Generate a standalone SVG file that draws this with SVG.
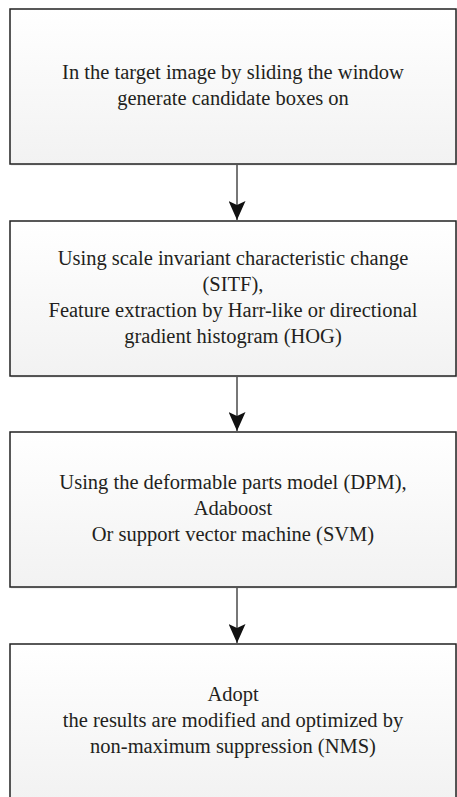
<svg xmlns="http://www.w3.org/2000/svg" width="457" height="797" viewBox="0 0 457 797">
  <defs>
    <linearGradient id="boxFill" x1="0" y1="0" x2="0" y2="1">
      <stop offset="0" stop-color="#ffffff"/>
      <stop offset="1" stop-color="#f2f2f2"/>
    </linearGradient>
    <marker id="arrow" viewBox="0 0 19 17" refX="19" refY="8.5" markerWidth="19" markerHeight="17" markerUnits="userSpaceOnUse" orient="auto">
      <path d="M0,0 L19,8.5 L0,17 L4,8.5 Z" fill="#111111"/>
    </marker>
    <style>
      .shadow { fill: #e6e6e6; stroke: none; }
      .box { fill: url(#boxFill); stroke: #222222; stroke-width: 1.5; }
      .label { font-family: "Liberation Serif", "Times New Roman", serif; font-size: 20.5px; fill: #231f20; text-anchor: middle; }
      .link { stroke: #555555; stroke-width: 1.6; fill: none; marker-end: url(#arrow); }
    </style>
  </defs>

  <rect width="457" height="797" fill="#ffffff"/>

  <!-- process steps -->
  <g id="step-candidates">
    <rect class="shadow" x="11" y="10.5" width="446" height="155"/>
    <rect class="box" x="10" y="9" width="446" height="155"/>
    <text class="label" x="233" y="79">In the target image by sliding the window</text>
    <text class="label" x="233" y="105">generate candidate boxes on</text>
  </g>

  <g id="step-features">
    <rect class="shadow" x="11" y="222.5" width="446" height="155"/>
    <rect class="box" x="10" y="221" width="446" height="155"/>
    <text class="label" x="233" y="265">Using scale invariant characteristic change</text>
    <text class="label" x="233" y="291">(SITF),</text>
    <text class="label" x="233" y="317">Feature extraction by Harr-like or directional</text>
    <text class="label" x="233" y="343">gradient histogram (HOG)</text>
  </g>

  <g id="step-classifier">
    <rect class="shadow" x="11" y="433.5" width="446" height="155"/>
    <rect class="box" x="10" y="432" width="446" height="155"/>
    <text class="label" x="233" y="489">Using the deformable parts model (DPM),</text>
    <text class="label" x="233" y="515">Adaboost</text>
    <text class="label" x="233" y="541">Or support vector machine (SVM)</text>
  </g>

  <g id="step-nms">
    <rect class="shadow" x="11" y="645.5" width="446" height="155"/>
    <rect class="box" x="10" y="644" width="446" height="155"/>
    <text class="label" x="233" y="701">Adopt</text>
    <text class="label" x="233" y="727">the results are modified and optimized by</text>
    <text class="label" x="233" y="753">non-maximum suppression (NMS)</text>
  </g>

  <!-- connectors -->
  <g id="connectors">
    <line class="link" x1="237" y1="165" x2="237" y2="220"/>
    <line class="link" x1="237" y1="377" x2="237" y2="431"/>
    <line class="link" x1="237" y1="588" x2="237" y2="643"/>
  </g>
</svg>
